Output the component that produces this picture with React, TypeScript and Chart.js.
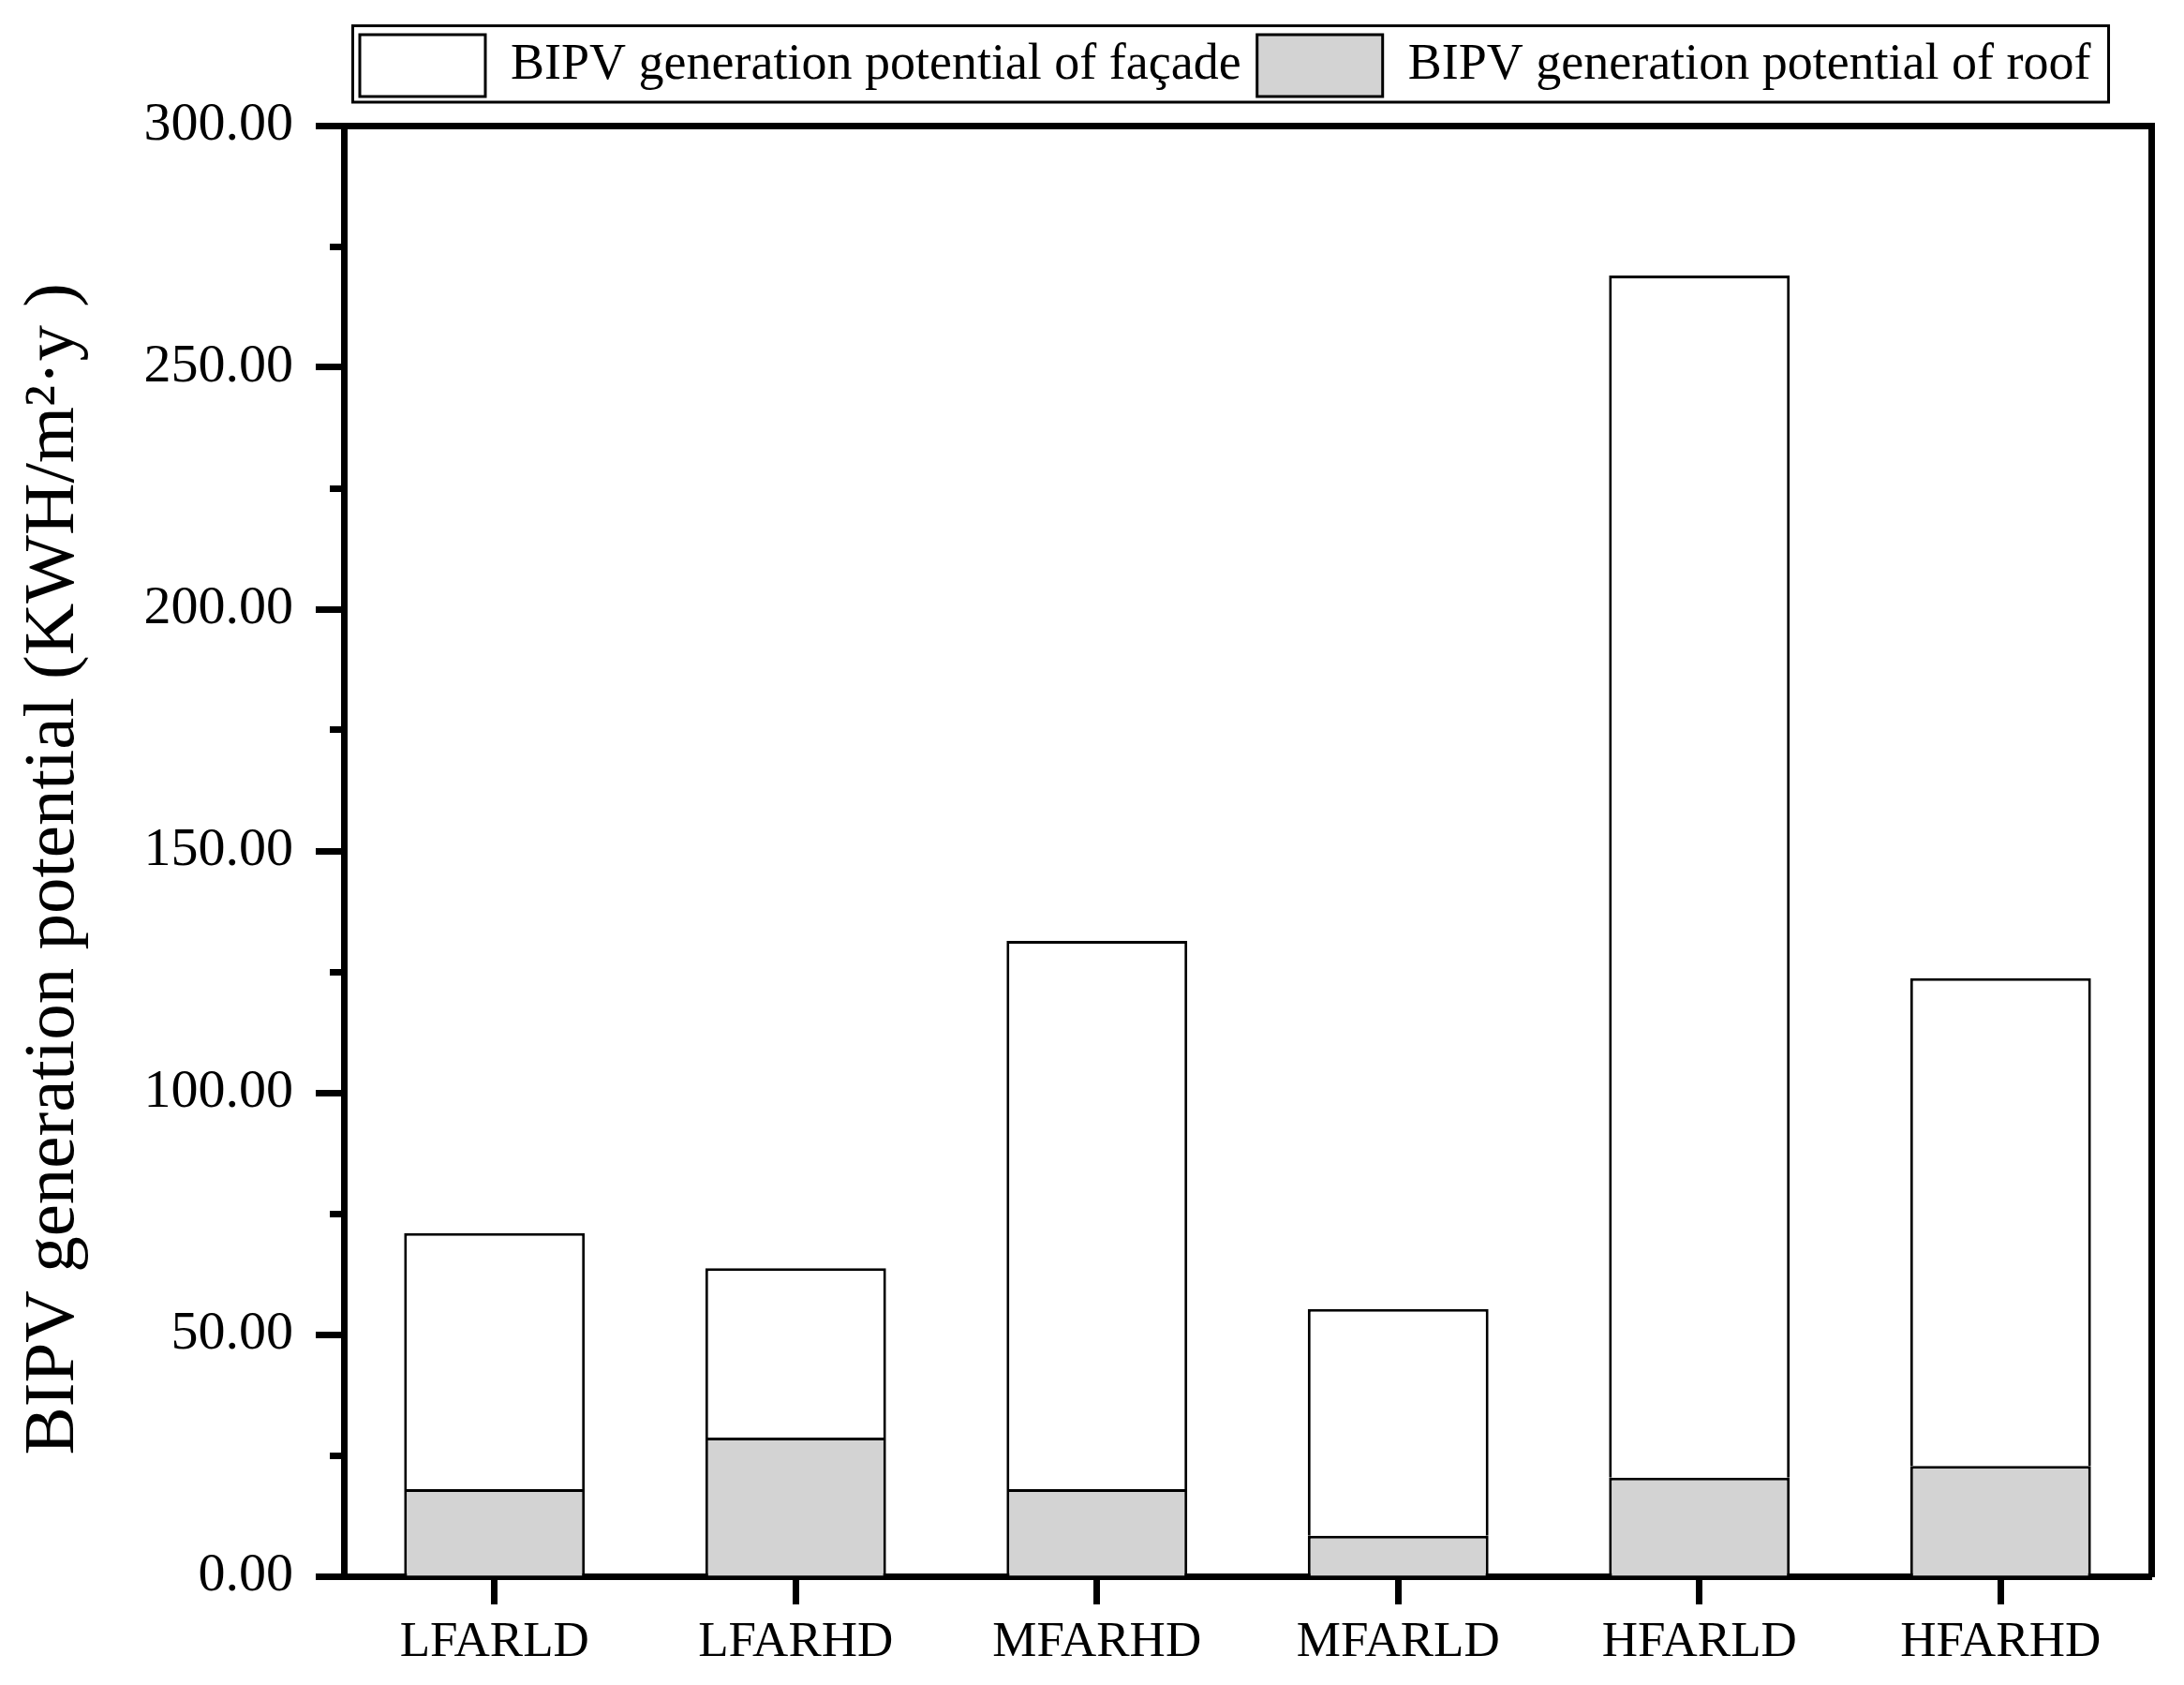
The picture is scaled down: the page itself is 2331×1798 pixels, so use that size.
import React, { useEffect, useRef } from 'react';
import { Chart, registerables } from 'chart.js';

Chart.register(...registerables);

// ---- data ----
const categories = ['LFARLD', 'LFARHD', 'MFARHD', 'MFARLD', 'HFARLD', 'HFARHD'];
const roofValues = [18.0, 28.7, 18.0, 8.4, 20.4, 22.8];
const facadeValues = [53.0, 35.0, 113.4, 46.9, 248.6, 100.9];
const seriesNames = ['BIPV generation potential of façade', 'BIPV generation potential of roof'];
const yTickValues = [0, 25, 50, 75, 100, 125, 150, 175, 200, 225, 250, 275, 300];
const yMajorTicks = [0, 50, 100, 150, 200, 250, 300];
const yTickLabels = ['0.00', '50.00', '100.00', '150.00', '200.00', '250.00', '300.00'];
const yAxisTitle = 'BIPV generation potential (KWH/m²·y )';

const FONT = "'Liberation Serif', 'Times New Roman', serif";

const legendFrame = {
  id: 'legendFrame',
  afterDraw(chart: any) {
    const lg = chart.legend;
    if (!lg || !lg.legendHitBoxes || !lg.legendHitBoxes.length) return;
    const hb = lg.legendHitBoxes;
    const first = hb[0];
    const last = hb[hb.length - 1];
    const ctx = chart.ctx;
    const x0 = first.left - 7.5;
    const x1 = last.left + last.width + 19;
    const y0 = lg.top + 7.5;
    const y1 = lg.top + 89;
    ctx.save();
    ctx.strokeStyle = '#000';
    ctx.lineWidth = 3;
    ctx.strokeRect(x0, y0, x1 - x0, y1 - y0);
    ctx.restore();
  },
};

export default function App() {
  const canvasRef = useRef<HTMLCanvasElement | null>(null);

  useEffect(() => {
    if (!canvasRef.current) return;
    Chart.defaults.font.family = FONT;
    Chart.defaults.color = '#000';
    const isMinor = (ctx: any) => ctx.tick && yMajorTicks.indexOf(ctx.tick.value) < 0;
    const chart = new Chart(canvasRef.current, {
      type: 'bar',
      data: {
        labels: categories,
        datasets: [
          {
            label: seriesNames[1],
            data: roofValues,
            backgroundColor: '#d3d3d3',
            borderColor: '#000',
            borderWidth: 3,
            stack: 's',
            barPercentage: 0.6,
            categoryPercentage: 1.0,
          },
          {
            label: seriesNames[0],
            data: facadeValues,
            backgroundColor: '#ffffff',
            borderColor: '#000',
            borderWidth: 3,
            stack: 's',
            barPercentage: 0.6,
            categoryPercentage: 1.0,
          },
        ],
      },
      options: {
        responsive: false,
        animation: false,
        devicePixelRatio: 1,
        layout: { padding: { top: 20, left: 0, right: 0, bottom: 0 } },
        plugins: {
          tooltip: { enabled: false },
          legend: {
            display: true,
            position: 'top',
            align: 'start',
            fullSize: false,
            reverse: true,
            labels: {
              boxWidth: 134,
              boxHeight: 66,
              padding: 17,
              color: '#000',
              font: { family: FONT, size: 54 },
            },
          },
        },
        scales: {
          x: {
            type: 'category',
            position: 'bottom',
            stacked: true,
            offset: true,
            grid: {
              display: true,
              drawOnChartArea: false,
              drawTicks: true,
              tickLength: 30,
              tickWidth: 7,
              tickColor: '#000',
              offset: false,
            },
            border: { display: true, width: 7, color: '#000' },
            ticks: {
              color: '#000',
              font: { family: FONT, size: 53 },
              padding: 9,
              maxRotation: 0,
              autoSkip: false,
            },
            afterFit: (s: any) => {
              s.height = 116;
            },
          },
          x2: {
            type: 'category',
            position: 'top',
            display: true,
            grid: { display: false },
            ticks: { display: false },
            border: { display: true, width: 7, color: '#000' },
            afterFit: (s: any) => {
              s.height = 21;
            },
          },
          y: {
            type: 'linear',
            position: 'left',
            stacked: true,
            min: 0,
            max: 300,
            afterBuildTicks: (s: any) => {
              s.ticks = yTickValues.map((v) => ({ value: v }));
            },
            grid: {
              display: true,
              drawOnChartArea: false,
              drawTicks: true,
              tickLength: 30,
              tickWidth: 7,
              tickColor: '#000',
              tickBorderDash: (ctx: any) => (isMinor(ctx) ? [40, 15] : []),
              tickBorderDashOffset: (ctx: any) => (isMinor(ctx) ? 40 : 0),
            },
            border: { display: true, width: 7, color: '#000' },
            ticks: {
              color: '#000',
              font: { family: FONT, size: 58 },
              padding: 24,
              autoSkip: false,
              callback: (v: any) => {
                const i = yMajorTicks.indexOf(Number(v));
                return i >= 0 ? yTickLabels[i] : '';
              },
            },
            title: {
              display: true,
              text: yAxisTitle + '  ',
              color: '#000',
              font: { family: FONT, size: 77 },
              padding: { top: 12, bottom: 0 },
            },
            afterFit: (s: any) => {
              s.width = 367;
            },
          },
          y2: {
            type: 'linear',
            position: 'right',
            display: true,
            min: 0,
            max: 300,
            grid: { display: false },
            ticks: { display: false },
            border: { display: true, width: 7, color: '#000' },
            afterFit: (s: any) => {
              s.width = 35;
            },
          },
        },
      } as any,
      plugins: [legendFrame],
    });
    return () => chart.destroy();
  }, []);

  return (
    <div style={{ position: 'absolute', left: 0, top: 0, width: 2331, height: 1798, background: '#fff' }}>
      <canvas ref={canvasRef} width={2331} height={1798} style={{ display: 'block', width: 2331, height: 1798 }} />
    </div>
  );
}
